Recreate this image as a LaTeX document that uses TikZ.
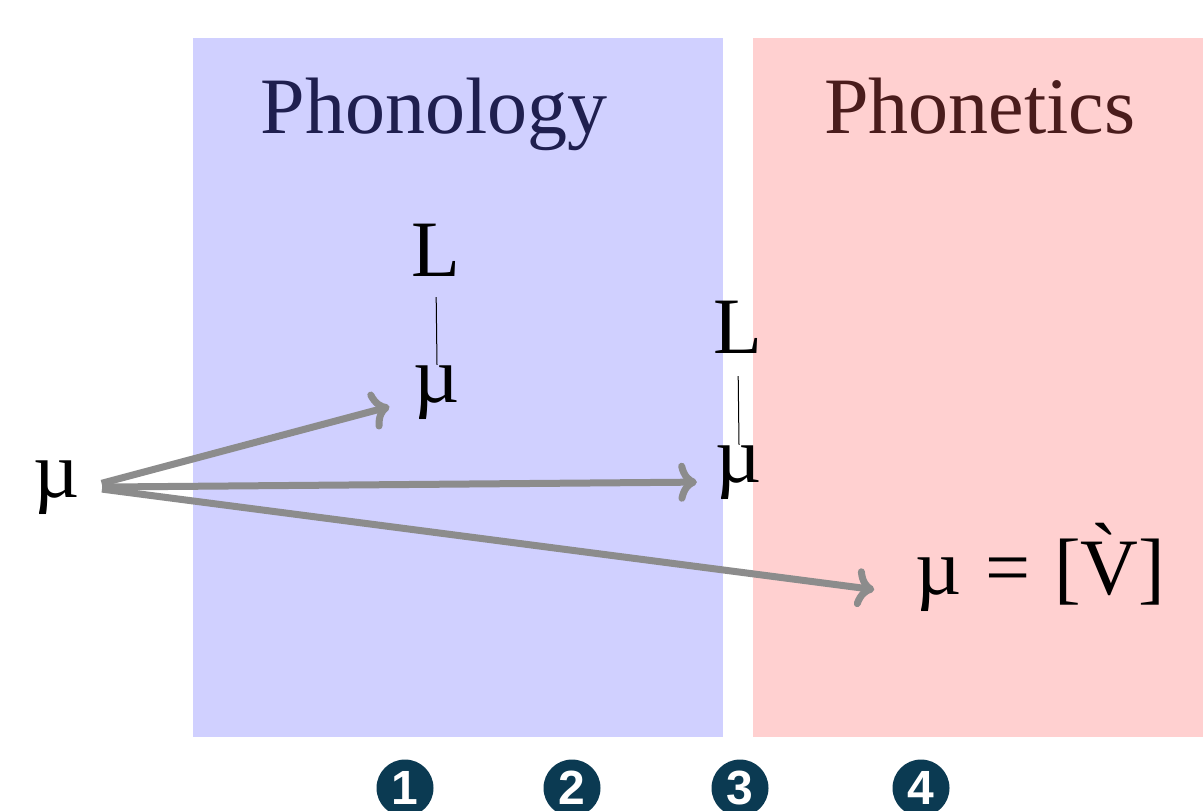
\documentclass[tikz,border=0pt]{standalone}
\usepackage{fontspec}
\setmainfont{Liberation Serif}
\newfontfamily\numfont{Liberation Sans}
\usetikzlibrary{arrows.meta}
\definecolor{phonblue}{HTML}{D0D0FF}
\definecolor{phonrose}{HTML}{FFD0D0}
\definecolor{bluetext}{HTML}{1F1F4F}
\definecolor{rosetext}{HTML}{4A1C1C}
\definecolor{arrowgray}{HTML}{8C8C8C}
\definecolor{dotteal}{HTML}{0B3A52}

\begin{document}
\begin{tikzpicture}[x=0.5pt, y=-0.5pt,
  big/.style={font=\fontsize{40}{48}\selectfont, anchor=base},
  mu/.style={big, inner ysep=0pt},
  arr/.style={draw=arrowgray, line width=3.5pt, -{Computer Modern Rightarrow[round]}, shorten <=7.5pt},
  link/.style={draw=black, line width=0.5pt},
  num/.style={circle, fill=dotteal, text=white, minimum size=28.5pt, inner sep=0pt, font=\numfont\bfseries\fontsize{24}{24}\selectfont}
]
\clip (0,0) rectangle (1203,810);
\fill[white] (0,0) rectangle (1203,810);
\fill[phonblue] (193,38) rectangle (723,737);
\fill[phonrose] (753,38) rectangle (1203,737);

\node[big, text=bluetext] (phonology) at (434,133) {Phonology};
\node[big, text=rosetext] (phonetics) at (980,133) {Phonetics};

\node[mu] (mu0) at (57,497) {µ};
\node[big] (tone1) at (436,276) {L};
\node[mu] (mu1) at (437,402) {µ};
\node[big] (tone2) at (738,353) {L};
\node[mu] (mu2) at (739,482) {µ};
\node[big, anchor=base west] (surface) at (908,594) {µ\hspace{0.3em}=\hspace{0.3em}[\`V]};

\draw[link, shorten <=7pt] (tone1.south) -- (mu1.north);
\draw[link, shorten <=8pt] (tone2.south) -- (mu2.north);

\draw[arr, shorten >=9pt] (mu0.east) -- (mu1.base west);
\draw[arr, shorten >=6pt] (mu0.east) -- (mu2.base west);
\draw[arr, shorten >=17pt] (mu0.east) -- (surface.base west);

\foreach \i/\x in {1/405, 2/572, 3/740, 4/921}
  \node[num] (stage\i) at (\x,788) {\i};
\end{tikzpicture}
\end{document}
